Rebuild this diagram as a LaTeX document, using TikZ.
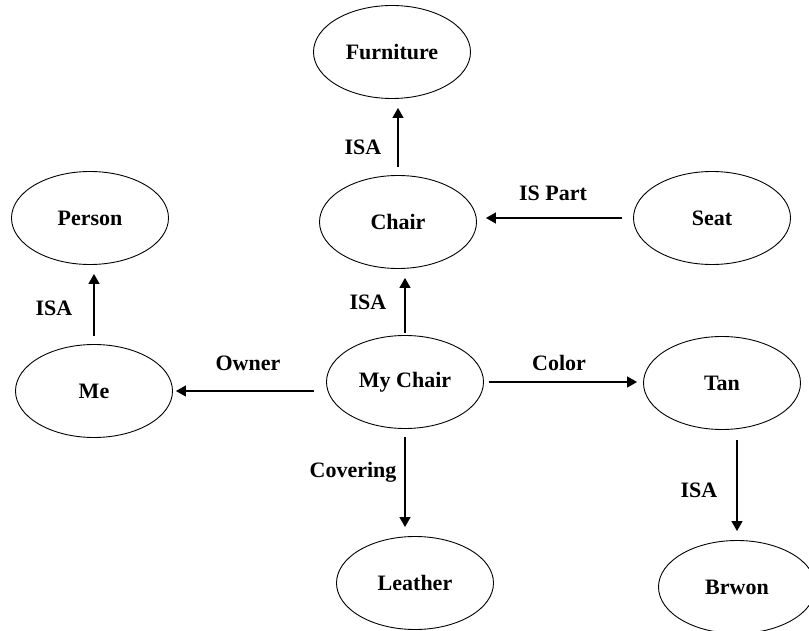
\documentclass[tikz,border=0pt]{standalone}
\usepackage{fontspec}
\setmainfont{Liberation Serif}
\usetikzlibrary{arrows.meta,positioning,shapes.geometric,calc}

\begin{document}
\begin{tikzpicture}[x=1pt,y=-1pt,
  concept/.style={draw,ellipse,line width=0.9pt,minimum width=157pt,minimum height=93pt,inner sep=0pt,font=\fontsize{22}{26}\selectfont\bfseries},
  rel/.style={-{Triangle[length=10pt,width=11pt]},line width=1.2pt,shorten <=8pt,shorten >=9pt},
  lbl/.style={font=\fontsize{22}{26}\selectfont\bfseries}]
  \useasboundingbox (0,0) rectangle (809,631);
  % concepts
  \node[concept] (furniture) at (392,52) {Furniture};
  \node[concept] (person) at (90,218) {Person};
  \node[concept] (chair) at (398,222) {Chair};
  \node[concept] (seat) at (712,218) {Seat};
  \node[concept] (me) at (94,391) {Me};
  \node[concept] (mychair) at (405,382) {My Chair};
  \node[concept] (tan) at (722,383) {Tan};
  \node[concept] (leather) at (415,583) {Leather};
  \node[concept] (brwon) at (737,587) {Brwon};
  % relations
  \draw[rel] (chair.north) -- (chair.north |- furniture.south);
  \draw[rel,shorten <=11pt] (seat.west) -- (chair.east |- seat.west);
  \draw[rel] (me.north) -- (me.north |- person.south);
  \draw[rel,shorten <=2pt] (mychair.north) -- (mychair.north |- chair.south);
  \draw[rel,shorten <=12pt,shorten >=3pt] (mychair.west |- me.east) -- (me.east);
  \draw[rel,shorten <=5pt,shorten >=6pt] (mychair.east) -- (tan.west |- mychair.east);
  \draw[rel] (mychair.south) -- (mychair.south |- leather.north);
  \draw[rel,shorten <=10pt] (tan.south -| brwon.north) -- (brwon.north);
  % labels
  \node[lbl] (isafurniture) at (363,147) {ISA};
  \node[lbl] (ispart) at (553,193) {IS Part};
  \node[lbl] (isaperson) at (54,308) {ISA};
  \node[lbl] (isachair) at (368,302) {ISA};
  \node[lbl] (owner) at (248,363) {Owner};
  \node[lbl] (color) at (559,363) {Color};
  \node[lbl] (covering) at (353,472) {Covering};
  \node[lbl] (isabrwon) at (699,490) {ISA};
\end{tikzpicture}
\end{document}
